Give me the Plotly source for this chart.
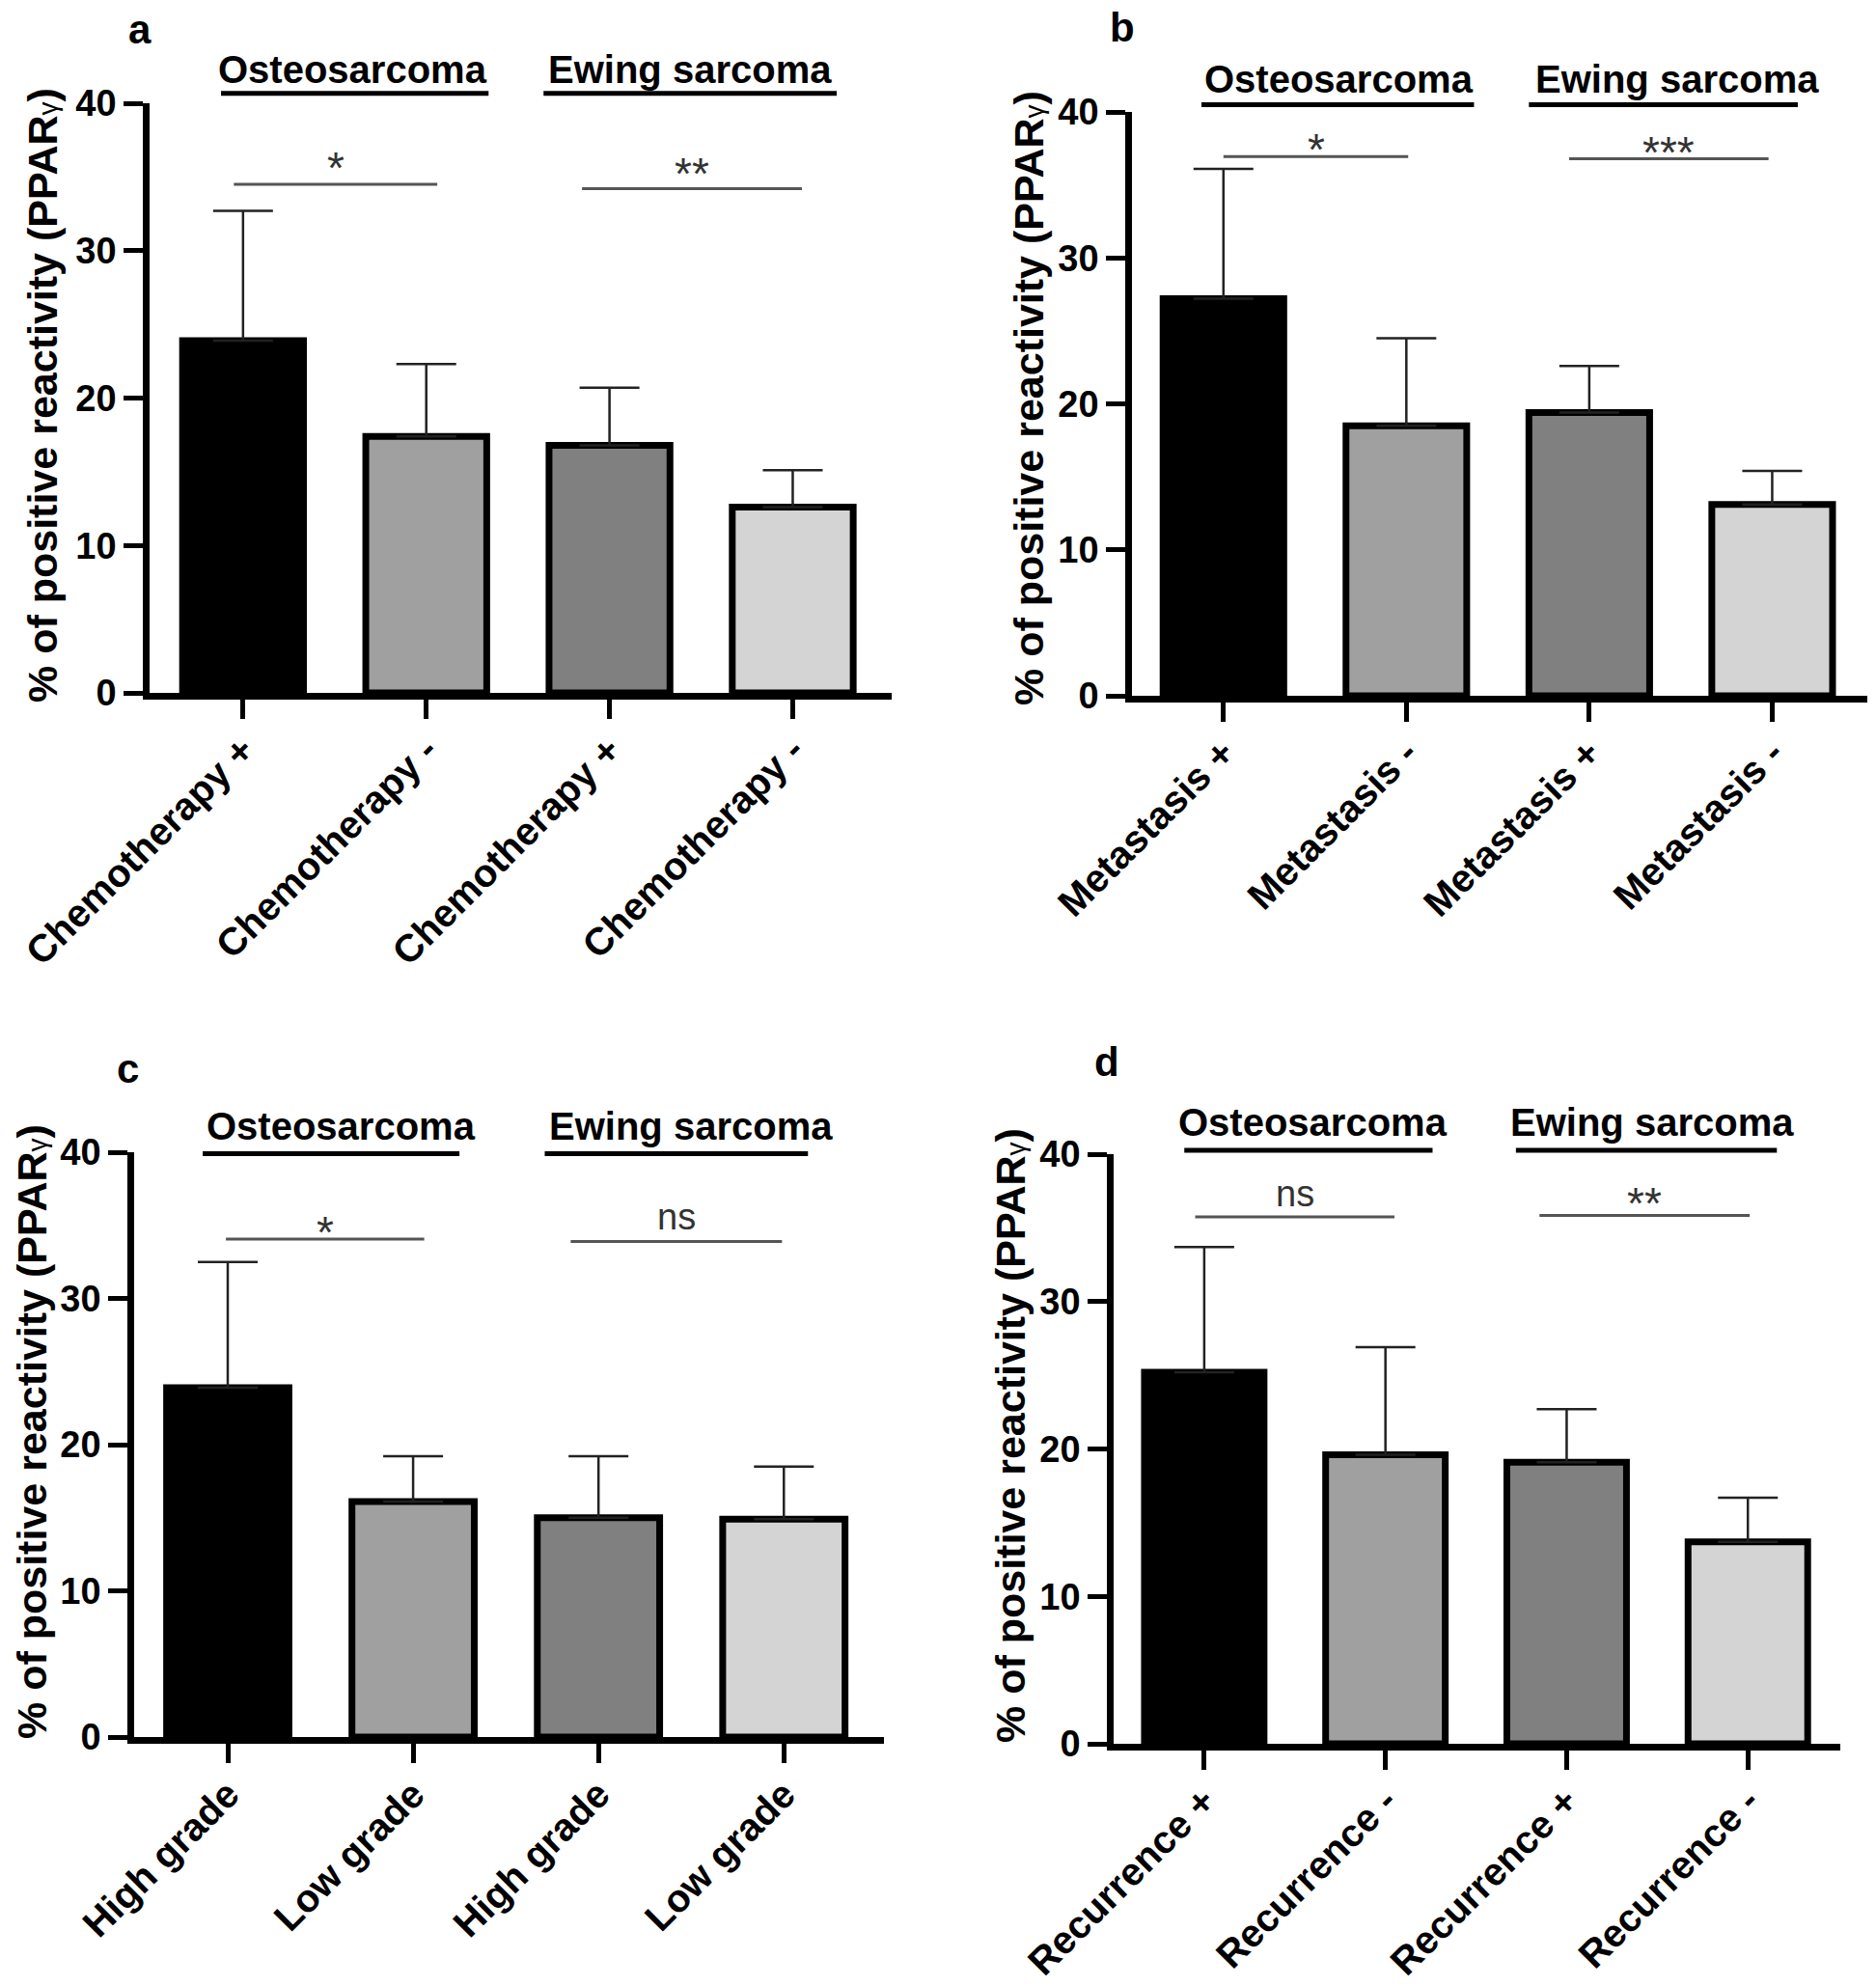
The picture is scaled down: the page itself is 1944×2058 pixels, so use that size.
import plotly.graph_objects as go

W, H = 1944, 2058
FONT = "Liberation Sans, Arial, sans-serif"

# ---------------- data ----------------
positions = [0, 1, 2, 3]
bar_colors = ["#000000", "#a0a0a0", "#808080", "#d4d4d4"]

labels_a = ["Chemotherapy +", "Chemotherapy -", "Chemotherapy +", "Chemotherapy -"]
values_a = [23.9, 17.4, 16.8, 12.6]
err_a = [8.8, 4.9, 3.9, 2.5]

labels_b = ["Metastasis +", "Metastasis -", "Metastasis +", "Metastasis -"]
values_b = [27.2, 18.5, 19.4, 13.1]
err_b = [8.9, 6.0, 3.2, 2.3]

labels_c = ["High grade", "Low grade", "High grade", "Low grade"]
values_c = [23.9, 16.1, 15.0, 14.9]
err_c = [8.6, 3.1, 4.2, 3.6]

labels_d = ["Recurrence +", "Recurrence -", "Recurrence +", "Recurrence -"]
values_d = [25.2, 19.6, 19.1, 13.7]
err_d = [8.5, 7.3, 3.6, 3.0]

# significance: (text, x_start, x_end, line_y, text_y)
sig_a = [("*", -0.05, 1.06, 34.5, 36.3), ("**", 1.85, 3.05, 34.2, 35.9)]
sig_b = [("*", 0.0, 1.01, 36.95, 38.1), ("***", 1.89, 2.98, 36.8, 37.9)]
sig_c = [("*", -0.01, 1.06, 34.06, 35.2), ("ns", 1.85, 2.99, 33.9, 35.4)]
sig_d = [("ns", -0.05, 1.05, 35.75, 37.1), ("**", 1.85, 3.01, 35.85, 37.3)]

# group headers: (text, x_start, x_end, line_y, text_x, text_y)
grp_a = [("Osteosarcoma", -0.12, 1.34, 40.67, 0.6, 42.3), ("Ewing sarcoma", 1.64, 3.24, 40.67, 2.44, 42.3)]
grp_b = [("Osteosarcoma", -0.12, 1.37, 40.5, 0.63, 42.25), ("Ewing sarcoma", 1.67, 3.14, 40.5, 2.48, 42.25)]
grp_c = [("Osteosarcoma", -0.135, 1.25, 39.9, 0.61, 41.8), ("Ewing sarcoma", 1.71, 3.13, 39.9, 2.5, 41.8)]
grp_d = [("Osteosarcoma", -0.11, 1.26, 40.26, 0.6, 42.15), ("Ewing sarcoma", 1.72, 3.16, 40.26, 2.47, 42.15)]

yticks = [0, 10, 20, 30, 40]
ylabel = "% of positive reactivity (PPAR<span style='font-size:28px;font-weight:normal'>γ</span>)"

# ---------------- layout (pixels) ----------------
panels = [
    dict(letter="a", labels=labels_a, values=values_a, err=err_a, sig=sig_a, grp=grp_a,
         xpx=(155, 924), ypx=(718, 107), xr=(-0.51, 3.54), letter_px=(145, 30), ylab_px=(44, 410)),
    dict(letter="b", labels=labels_b, values=values_b, err=err_b, sig=sig_b, grp=grp_b,
         xpx=(1173, 1935), ypx=(721, 116), xr=(-0.5, 3.52), letter_px=(1163, 28), ylab_px=(1066, 413)),
    dict(letter="c", labels=labels_c, values=values_c, err=err_c, sig=sig_c, grp=grp_c,
         xpx=(139, 916), ypx=(1800, 1194), xr=(-0.505, 3.54), letter_px=(132, 1107), ylab_px=(33, 1484)),
    dict(letter="d", labels=labels_d, values=values_d, err=err_d, sig=sig_d, grp=grp_d,
         xpx=(1154, 1907), ypx=(1807, 1196), xr=(-0.5, 3.51), letter_px=(1147, 1100), ylab_px=(1047, 1488)),
]

fig = go.Figure()
layout = dict(
    template="none",
    width=W, height=H, margin=dict(l=0, r=0, t=0, b=0, pad=0, autoexpand=False),
    paper_bgcolor="white", plot_bgcolor="rgba(0,0,0,0)",
    showlegend=False, font=dict(family=FONT, color="black"),
)
annotations = []

for i, p in enumerate(panels):
    n = i + 1
    m = i + 5
    xd = [p["xpx"][0] / W, p["xpx"][1] / W]
    yd = [1 - p["ypx"][0] / H, 1 - p["ypx"][1] / H]
    yd_ext = [yd[0], yd[0] + (yd[1] - yd[0]) * 44 / 40]

    xs = "" if n == 1 else str(n)
    fig.add_trace(go.Bar(
        x=positions, y=p["values"], width=0.66,
        marker=dict(color=bar_colors, line=dict(color="black", width=7)),
        error_y=dict(type="data", symmetric=False, array=p["err"], arrayminus=[0] * 4,
                     color="#222222", thickness=2.5, width=31),
        xaxis="x" + xs, yaxis="y" + xs, hoverinfo="skip",
    ))

    layout["xaxis" + xs] = dict(
        domain=xd, range=list(p["xr"]), anchor="y" + xs, automargin=False,
        tickmode="array", tickvals=positions, ticktext=p["labels"], tickangle=-45,
        ticks="outside", ticklen=20, tickwidth=5, tickcolor="black",
        ticklabelstandoff=-7,
        showline=True, linewidth=7, linecolor="black", showgrid=False, zeroline=False,
        tickfont=dict(family=FONT, size=40, weight="bold", color="black"),
        fixedrange=True,
    )
    layout["yaxis" + xs] = dict(
        domain=yd, range=[0, 40], anchor="x" + xs, automargin=False,
        tickmode="array", tickvals=yticks,
        ticks="outside", ticklen=20, tickwidth=5, tickcolor="black",
        showline=True, linewidth=6.5, linecolor="black", showgrid=False, zeroline=False,
        tickfont=dict(family=FONT, size=38, weight="bold", color="black"),
        fixedrange=True,
    )
    # hidden overlay axes for annotation lines above the plot area
    layout["xaxis%d" % m] = dict(domain=xd, range=list(p["xr"]), anchor="y%d" % m,
                                 visible=False, automargin=False)
    layout["yaxis%d" % m] = dict(domain=yd_ext, range=[0, 44], anchor="x%d" % m,
                                 visible=False, automargin=False)

    # significance lines
    sx, sy = [], []
    for t, x0, x1, ly, ty in p["sig"]:
        sx += [x0, x1, None]
        sy += [ly, ly, None]
        star = "*" in t
        annotations.append(dict(
            x=(x0 + x1) / 2, y=ty, xref="x%d" % m, yref="y%d" % m, text=t, showarrow=False,
            xanchor="center", yanchor="middle", yshift=-10 if star else 3,
            font=dict(family=FONT, size=46 if star else 38, color="#333333"),
        ))
    fig.add_trace(go.Scatter(x=sx, y=sy, mode="lines", line=dict(color="#555555", width=3),
                             xaxis="x%d" % m, yaxis="y%d" % m, hoverinfo="skip"))

    # group header lines & text
    gx, gy = [], []
    for t, x0, x1, ly, tx, ty in p["grp"]:
        gx += [x0, x1, None]
        gy += [ly, ly, None]
        annotations.append(dict(
            x=tx, y=ty, xref="x%d" % m, yref="y%d" % m, text=t, showarrow=False,
            xanchor="center", yanchor="middle",
            font=dict(family=FONT, size=40, weight="bold", color="black"),
        ))
    fig.add_trace(go.Scatter(x=gx, y=gy, mode="lines", line=dict(color="black", width=5),
                             xaxis="x%d" % m, yaxis="y%d" % m, hoverinfo="skip"))

    # panel letter
    annotations.append(dict(
        x=p["letter_px"][0] / W, y=1 - p["letter_px"][1] / H, xref="paper", yref="paper",
        text=p["letter"], showarrow=False, xanchor="center", yanchor="middle",
        font=dict(family=FONT, size=42, weight="bold", color="black"),
    ))
    # y-axis label
    annotations.append(dict(
        x=p["ylab_px"][0] / W, y=1 - p["ylab_px"][1] / H, xref="paper", yref="paper",
        text=ylabel, showarrow=False, textangle=-90, xanchor="center", yanchor="middle",
        font=dict(family=FONT, size=43, weight="bold", color="black"),
    ))

layout["annotations"] = annotations
fig.update_layout(**layout)
fig.write_html("out.html", config={"displayModeBar": False},
               post_script="document.body.style.margin='0px';")
